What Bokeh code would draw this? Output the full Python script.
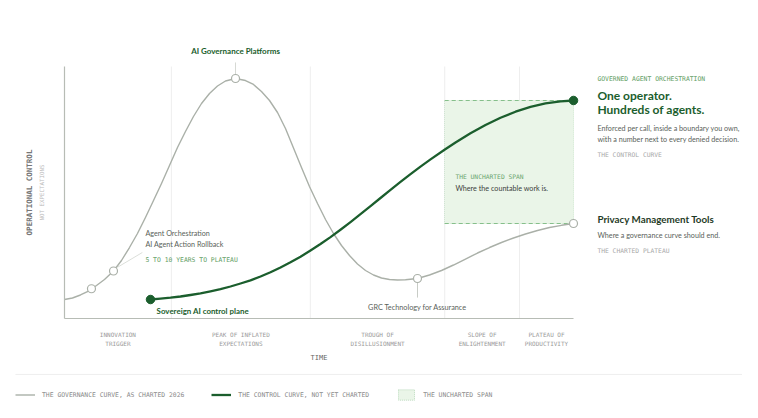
from bokeh.plotting import figure
from bokeh.models import (FixedTicker, Label, Legend, LegendItem, LinearAxis, ColumnDataSource)
from bokeh.embed import file_html
from bokeh.resources import INLINE

# ---------------- data ----------------
phase_names = ["INNOVATION\nTRIGGER", "PEAK OF INFLATED\nEXPECTATIONS", "TROUGH OF\nDISILLUSIONMENT",
               "SLOPE OF\nENLIGHTENMENT", "PLATEAU OF\nPRODUCTIVITY"]
phase_bounds = [0, 21.0, 48.3, 74.7, 89.4, 100]

# the governance (hype) curve, as charted
gov_x = [0, 1.57, 3.14, 4.72, 6.29, 7.86, 9.63, 11.20, 12.77, 14.34, 15.91, 17.49, 19.06, 20.63,
         22.20, 23.77, 25.34, 26.92, 28.49, 30.06, 31.63, 33.60, 35.56, 37.13, 38.70, 40.28, 41.85,
         43.42, 44.99, 46.56, 48.13, 49.71, 51.28, 52.85, 54.42, 55.99, 57.56, 59.14, 60.71, 62.28,
         63.85, 65.42, 66.99, 69.35, 71.71, 74.07, 76.42, 78.78, 81.14, 83.50, 85.85, 88.21, 90.57,
         92.93, 95.28, 97.64, 100]
gov_y = [7.54, 8.13, 9.33, 10.91, 13.10, 15.48, 18.85, 23.02, 28.17, 33.73, 40.08, 46.83, 53.57, 60.71,
         67.86, 74.21, 80.16, 85.32, 89.29, 92.26, 94.25, 95.24, 94.44, 92.86, 90.08, 86.51, 81.75,
         75.40, 67.66, 59.92, 52.38, 45.63, 39.29, 33.73, 28.97, 25.00, 21.63, 19.05, 17.26, 16.07,
         15.48, 15.28, 15.36, 15.87, 17.26, 19.05, 21.23, 23.61, 25.99, 28.17, 30.16, 31.94, 33.53,
         34.92, 36.11, 36.98, 37.70]

gov_mark_x = [5.30, 9.63, 33.60, 69.35, 100]
gov_mark_y = [11.80, 18.85, 95.24, 15.87, 37.70]

# the control curve, not yet charted
ctl_x = [16.90, 18.86, 20.83, 22.79, 24.75, 26.72, 28.68, 30.65, 32.61, 34.58, 36.54, 38.51, 40.47,
         42.44, 44.40, 46.37, 48.33, 50.29, 52.26, 54.22, 56.19, 58.15, 60.12, 62.08, 64.05, 66.01,
         67.98, 69.94, 71.91, 74.66, 76.82, 79.76, 82.71, 85.66, 88.61, 91.55, 94.50, 97.45, 100]
ctl_y = [7.54, 7.86, 8.25, 8.73, 9.33, 10.00, 10.79, 11.67, 12.70, 13.89, 15.16, 16.67, 18.33,
         20.24, 22.30, 24.52, 26.98, 29.56, 32.30, 35.20, 38.25, 41.39, 44.60, 47.82, 51.03, 54.21,
         57.30, 60.28, 63.13, 66.98, 69.84, 73.49, 76.79, 79.68, 82.06, 83.97, 85.36, 86.15, 86.51]

legend_labels = ["THE GOVERNANCE CURVE, AS CHARTED 2026", "THE CONTROL CURVE, NOT YET CHARTED",
                 "THE UNCHARTED SPAN"]

# ---------------- style ----------------
GRAY = "#aab0a8"
GREEN = "#1b5e2d"
DARK = "#1f3b27"
TEXTG = "#5a5f5a"
MONO = "DejaVu Sans Mono"
SANS = "Lato"
SPAN_FILL = "#eaf5e8"
SPAN_LINE = "#86bf8b"
AXIS = "#b7bcb5"

# the frame covers the whole canvas; axes sit at fixed data locations inside it
p = figure(width=742, height=402, x_range=(-12.57, 133.2), y_range=(-33.33, 126.19),
           output_backend="svg", toolbar_location=None, min_border=0)
p.outline_line_color = None
p.grid.visible = False

# x axis: phases
mids = [(phase_bounds[i] + phase_bounds[i + 1]) / 2 for i in range(len(phase_names))]
xa = p.xaxis[0]
xa.fixed_location = 0
xa.bounds = (phase_bounds[0], phase_bounds[-1])
xa.ticker = FixedTicker(ticks=mids)
xa.major_label_overrides = {m: n for m, n in zip(mids, phase_names)}
xa.major_tick_line_color = None
xa.minor_tick_line_color = None
xa.major_tick_out = 0
xa.axis_line_color = AXIS
xa.axis_line_width = 1.2
xa.major_label_text_font = MONO
xa.major_label_text_font_size = "6px"
xa.major_label_text_color = "#9a9a9a"
xa.major_label_text_line_height = 1.3
xa.major_label_standoff = 12
xa.axis_label = "TIME"
xa.axis_label_text_font = MONO
xa.axis_label_text_font_size = "7px"
xa.axis_label_text_font_style = "normal"
xa.axis_label_text_color = "#666666"
xa.axis_label_standoff = 4

# y axes
ya = p.yaxis[0]
ya.fixed_location = 0
ya.bounds = (0, 100)
ya.ticker = FixedTicker(ticks=[])
ya.major_tick_line_color = None
ya.minor_tick_line_color = None
ya.major_tick_out = 0
ya.major_label_standoff = 0
ya.axis_line_color = AXIS
ya.axis_line_width = 1.2
ya.axis_label = "NOT EXPECTATIONS"
ya.axis_label_text_font = MONO
ya.axis_label_text_font_size = "5.8px"
ya.axis_label_text_font_style = "normal"
ya.axis_label_text_color = "#bbbbbb"
ya.axis_label_standoff = 20

ya2 = LinearAxis(fixed_location=0, bounds=(0, 100), ticker=FixedTicker(ticks=[]), axis_line_color=None,
                 major_tick_line_color=None, minor_tick_line_color=None, major_tick_out=0,
                 major_label_standoff=0, axis_label="OPERATIONAL CONTROL",
                 axis_label_text_font=MONO, axis_label_text_font_size="7.5px",
                 axis_label_text_font_style="bold", axis_label_text_color="#777777",
                 axis_label_standoff=31)
p.add_layout(ya2, "left")

# phase gridlines
gb = phase_bounds[1:-1]
p.segment(x0=gb, x1=gb, y0=[0] * len(gb), y1=[100] * len(gb), line_color="#eeeeee", line_width=1)

# uncharted span: bordered quad (used as legend swatch) under a plain fill quad
sx0, sx1 = phase_bounds[3], gov_x[-1]
sy0, sy1 = gov_y[-1], ctl_y[-1]
span_src = ColumnDataSource(dict(l=[sx0], r=[sx1], b=[sy0], t=[sy1]))
r_span_leg = p.quad(left="l", right="r", bottom="b", top="t", source=span_src,
                    fill_color=SPAN_FILL, line_color=SPAN_LINE, line_width=1, line_dash="1 1",
                    line_alpha=0.5)
p.quad(left="l", right="r", bottom="b", top="t", source=span_src, fill_color=SPAN_FILL, line_color=None)
p.segment(x0=[sx0, sx0], x1=[sx1, sx1], y0=[sy0, sy1], y1=[sy0, sy1],
          line_color=SPAN_LINE, line_width=1.2, line_dash="4 3")

# leader lines
p.segment(x0=[gov_mark_x[2]], x1=[gov_mark_x[2]], y0=[gov_mark_y[2] + 1.6], y1=[101.6],
          line_color="#d6d9d4", line_width=1)
p.segment(x0=[gov_mark_x[3]], x1=[gov_mark_x[3]], y0=[gov_mark_y[3] - 1.7], y1=[8.3],
          line_color="#c8ccc6", line_width=1)
p.segment(x0=[gov_mark_x[1] + 0.8], x1=[15.3], y0=[gov_mark_y[1] + 1.5], y1=[26.2],
          line_color="#dcdfda", line_width=1)

# curves
r_gov = p.line(gov_x, gov_y, line_color=GRAY, line_width=1.4, line_join="round")
r_ctl = p.line(ctl_x, ctl_y, line_color=GREEN, line_width=2.3, line_join="round")
p.scatter(gov_mark_x, gov_mark_y, size=8, fill_color="white", line_color=GRAY, line_width=1.2)
p.scatter([ctl_x[0], ctl_x[-1]], [ctl_y[0], ctl_y[-1]], size=8.5, fill_color=GREEN, line_color=GREEN)


def lab(x, y, text, size, color, font=SANS, style="normal", align="left"):
    p.add_layout(Label(x=x, y=y, text=text, text_font=font, text_font_size=size,
                       text_color=color, text_font_style=style, text_align=align,
                       text_baseline="middle"))


# in-plot labels
lab(gov_mark_x[2], 106.3, "AI Governance Platforms", "8px", GREEN, style="bold", align="center")
lab(15.9, 33.7, "Agent Orchestration", "7.2px", TEXTG)
lab(15.9, 29.4, "AI Agent Action Rollback", "7.2px", TEXTG)
lab(15.9, 23.4, "5 TO 10 YEARS TO PLATEAU", "6.4px", "#5f9e64", font=MONO)
lab(18.1, 2.9, "Sovereign AI control plane", "7.9px", GREEN, style="bold")
lab(gov_mark_x[3], 4.5, "GRC Technology for Assurance", "7.3px", TEXTG, align="center")
lab(76.8, 56.3, "THE UNCHARTED SPAN", "6.3px", "#6aa56f", font=MONO)
lab(76.8, 51.6, "Where the countable work is.", "7.2px", "#3d433e")

# right panel
RX = 104.7
lab(RX, 95.2, "GOVERNED AGENT ORCHESTRATION", "6.4px", "#5f9e64", font=MONO)
lab(RX, 88.6, "One operator.", "12px", GREEN, style="bold")
lab(RX, 83.0, "Hundreds of agents.", "12px", GREEN, style="bold")
lab(RX, 75.4, "Enforced per call, inside a boundary you own,", "7.2px", TEXTG)
lab(RX, 71.0, "with a number next to every denied decision.", "7.2px", TEXTG)
lab(RX, 65.1, "THE CONTROL CURVE", "6.3px", "#a8a8a8", font=MONO)
lab(RX, 39.3, "Privacy Management Tools", "9.8px", DARK, style="bold")
lab(RX, 32.9, "Where a governance curve should end.", "7.2px", TEXTG)
lab(RX, 27.0, "THE CHARTED PLATEAU", "6.3px", "#a8a8a8", font=MONO)

# separator above the legend
p.segment(x0=[-9.63], x1=[133.2], y0=[-22.2], y1=[-22.2], line_color="#eeeeee", line_width=1)

# legend
leg = Legend(items=[LegendItem(label=legend_labels[0], renderers=[r_gov]),
                    LegendItem(label=legend_labels[1], renderers=[r_ctl]),
                    LegendItem(label=legend_labels[2], renderers=[r_span_leg])],
             location=(15, 1), orientation="horizontal", glyph_width=20, glyph_height=13,
             label_height=13, label_standoff=7, spacing=27, padding=0, margin=0,
             label_text_font=MONO, label_text_font_size="6.4px", label_text_color="#8a8a8a",
             background_fill_alpha=0, border_line_color=None)
p.add_layout(leg, "center")

open("out.html", "w").write(file_html(p, INLINE))
